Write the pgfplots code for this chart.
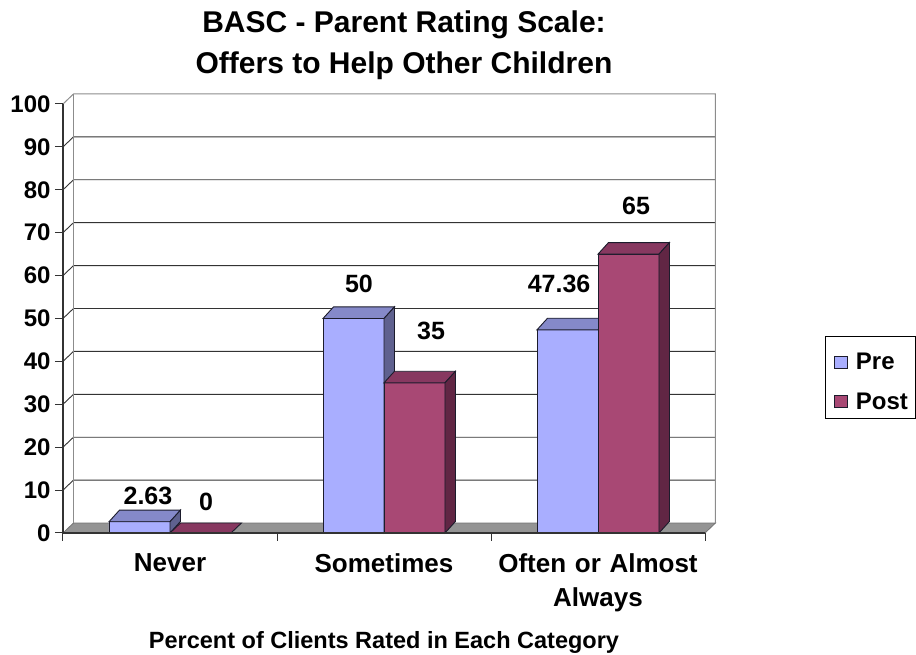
\documentclass[border=0pt]{standalone}
\usepackage{fontspec}
\setmainfont{Liberation Sans}
\usepackage{pgfplots}
\pgfplotsset{compat=1.18}

\definecolor{prefront}{HTML}{A9AEFF}
\definecolor{pretop}{HTML}{8589C9}
\definecolor{preside}{HTML}{5F618F}
\definecolor{postfront}{HTML}{A84874}
\definecolor{posttop}{HTML}{873860}
\definecolor{postside}{HTML}{612644}
\definecolor{edge}{HTML}{1C1C2C}

\newcommand{\fnt}[1]{\fontsize{#1}{#1}\selectfont\bfseries}

\begin{document}
\begin{tikzpicture}
\path[use as bounding box] (-63pt,-122pt) rectangle (853pt,533pt);
\begin{axis}[
    scale only axis,
    width=642pt,
    height=429pt,
    xmin=0, xmax=3,
    ymin=0, ymax=100,
    clip=false,
    axis on top,
    axis x line*=bottom,
    axis y line*=left,
    axis line style={-, line width=1.2pt, color=black!80},
    tick style={line width=1pt, color=black!80},
    tick align=outside,
    major tick length=8pt,
    xtick={0,1,2,3},
    xticklabels={Never,Sometimes,{Often or Almost\\Always}},
    x tick label as interval,
    x tick label style={align=center, text width=210pt, font=\fontsize{26}{34}\selectfont\bfseries, yshift=-9pt},
    ytick={0,10,...,100},
    y tick label style={font=\fnt{24}, xshift=-1pt},
    /pgf/number format/assume math mode=true,
    title={BASC - Parent Rating Scale:\\Offers to Help Other Children},
    title style={at={(axis description cs:0.5,1)}, anchor=center, xshift=20pt, yshift=53pt, align=center, font=\fontsize{30}{41}\selectfont\bfseries},
    xlabel={Percent of Clients Rated in Each Category},
    xlabel style={at={(axis description cs:0.5,0)}, anchor=center, yshift=-109pt, font=\fnt{23.5}},
    legend style={at={(1.187,0.459)}, anchor=north west, draw=black, line width=0.8pt,
        font=\fnt{24}, row sep=17pt, inner xsep=5.5pt, inner ysep=6pt},
    legend cell align=left,
]
% floor and walls
\addplot[fill=black!42, draw=black!55, line width=0.8pt, forget plot] coordinates {
    (0,0) (3,0) (3.049,2.33) (0.049,2.33)} -- cycle;
\addplot[draw=black!80, line width=0.9pt, forget plot, unbounded coords=jump] coordinates {
    (0,10) (0.049,12.33) (3.049,12.33) (0,nan)
    (0,20) (0.049,22.33) (3.049,22.33) (0,nan)
    (0,30) (0.049,32.33) (3.049,32.33) (0,nan)
    (0,40) (0.049,42.33) (3.049,42.33) (0,nan)
    (0,50) (0.049,52.33) (3.049,52.33) (0,nan)
    (0,60) (0.049,62.33) (3.049,62.33) (0,nan)
    (0,70) (0.049,72.33) (3.049,72.33) (0,nan)
    (0,80) (0.049,82.33) (3.049,82.33) (0,nan)
    (0,90) (0.049,92.33) (3.049,92.33)};
\addplot[draw=black!45, line width=1pt, forget plot] coordinates {
    (0,100) (0.049,102.33) (3.049,102.33) (3.049,2.33)};
\addplot[draw=black!45, line width=1pt, forget plot] coordinates {
    (0.049,2.33) (0.049,102.33)};

% Pre
\addplot[ybar, bar width=61pt, bar shift=-30.5pt, fill=prefront, draw=edge, line width=0.9pt, forget plot] coordinates {
    (0.5,2.63) (1.5,50) (2.5,47.36)};
\addplot[fill=pretop, draw=edge, line width=0.9pt, forget plot] coordinates {
    (0.215,2.63) (0.5,2.63) (0.549,5.33) (0.264,5.33)} -- cycle;
\addplot[fill=preside, draw=edge, line width=0.9pt, forget plot] coordinates {
    (0.5,0) (0.5,2.63) (0.549,5.33) (0.549,2.7)} -- cycle;
\addplot[fill=pretop, draw=edge, line width=0.9pt, forget plot] coordinates {
    (1.215,50) (1.5,50) (1.549,52.7) (1.264,52.7)} -- cycle;
\addplot[fill=preside, draw=edge, line width=0.9pt, forget plot] coordinates {
    (1.5,0) (1.5,50) (1.549,52.7) (1.549,2.7)} -- cycle;
\addplot[fill=pretop, draw=edge, line width=0.9pt, forget plot] coordinates {
    (2.215,47.36) (2.5,47.36) (2.549,50.06) (2.264,50.06)} -- cycle;

% Post
\addplot[ybar, bar width=61pt, bar shift=30.5pt, fill=postfront, draw=edge, line width=0.9pt, forget plot] coordinates {
    (0.5,0) (1.5,35) (2.5,65)};
\addplot[fill=posttop, draw=edge, line width=0.9pt, forget plot] coordinates {
    (0.5,0) (0.785,0) (0.834,2.33) (0.549,2.33)} -- cycle;
\addplot[fill=posttop, draw=edge, line width=0.9pt, forget plot] coordinates {
    (1.5,35) (1.785,35) (1.834,37.7) (1.549,37.7)} -- cycle;
\addplot[fill=postside, draw=edge, line width=0.9pt, forget plot] coordinates {
    (1.785,0) (1.785,35) (1.834,37.7) (1.834,2.7)} -- cycle;
\addplot[fill=posttop, draw=edge, line width=0.9pt, forget plot] coordinates {
    (2.5,65) (2.785,65) (2.834,67.7) (2.549,67.7)} -- cycle;
\addplot[fill=postside, draw=edge, line width=0.9pt, forget plot] coordinates {
    (2.785,0) (2.785,65) (2.834,67.7) (2.834,2.7)} -- cycle;

% value labels
\addplot[draw=none, forget plot, point meta=explicit symbolic,
    nodes near coords,
    every node near coord/.append style={anchor=center, font=\fnt{25}, text=black, inner sep=0pt}]
    table[meta=label] {
    x     y     label
    0.397 8.6   2.63
    0.668 7.2   0
    1.383 58.0  50
    1.720 47.0  35
    2.318 58.0  47.36
    2.678 76.3  65
};

\addlegendimage{legend image code/.code={\draw[fill=prefront, draw=edge, line width=0.7pt] (3.5pt,-6pt) rectangle (16pt,6pt); \path[draw=none, fill=none] (0pt,20pt) -- (23pt,0pt);}}
\addlegendentry{Pre}
\addlegendimage{legend image code/.code={\draw[fill=postfront, draw=edge, line width=0.7pt] (3.5pt,-6pt) rectangle (16pt,6pt); \path[draw=none, fill=none] (0pt,0pt) -- (23pt,0pt);}}
\addlegendentry{Post}
\end{axis}
\end{tikzpicture}
\end{document}
